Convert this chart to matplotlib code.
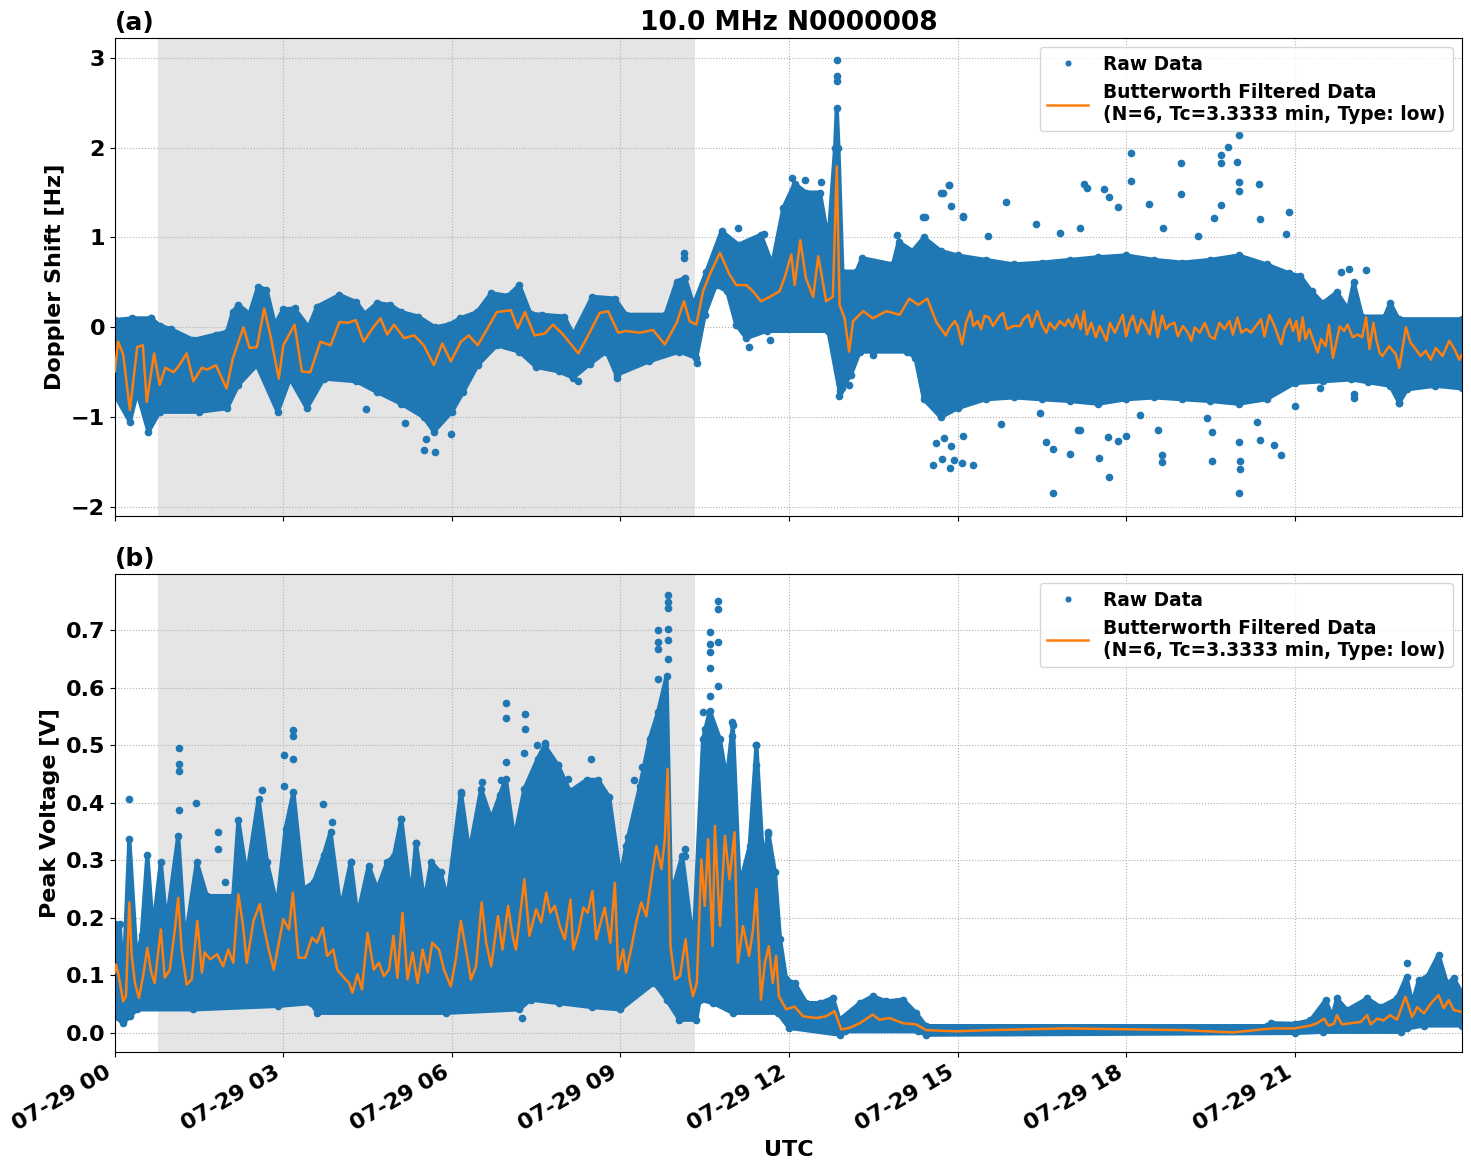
import numpy as np
import matplotlib
matplotlib.use("Agg")
import matplotlib.pyplot as plt
import matplotlib.dates as mdates
from datetime import datetime

# ---- panel (a): Doppler shift, hours UTC on 07-29 ----
filt_a_t = [0.0, 0.06, 0.15, 0.27, 0.4, 0.5, 0.57, 0.7, 0.8, 0.9, 1.05, 1.15, 1.28, 1.4, 1.55, 1.65,
            1.8, 1.99, 2.1, 2.29, 2.4, 2.53, 2.66, 2.77, 2.92, 3.0, 3.2, 3.33, 3.48, 3.66, 3.84, 4.0,
            4.15, 4.29, 4.43, 4.6, 4.73, 4.85, 4.97, 5.15, 5.33, 5.5, 5.68, 5.83, 5.98, 6.16, 6.3,
            6.46, 6.7, 6.8, 7.05, 7.17, 7.3, 7.47, 7.65, 7.8, 7.98, 8.25, 8.4, 8.63, 8.78, 8.96, 9.1,
            9.34, 9.58, 9.79, 10.0, 10.13, 10.23, 10.35, 10.47, 10.59, 10.77, 10.94, 11.06, 11.24,
            11.36, 11.5, 11.66, 11.83, 11.92, 12.04, 12.1, 12.2, 12.3, 12.43, 12.52, 12.57, 12.66,
            12.78, 12.85, 12.9, 12.99, 13.07, 13.14, 13.32, 13.49, 13.73, 13.97, 14.14, 14.3, 14.46,
            14.62, 14.79, 14.86, 14.95, 15.0, 15.08, 15.15, 15.23, 15.28, 15.36, 15.42, 15.48, 15.56,
            15.63, 15.75, 15.81, 15.88, 15.99, 16.11, 16.17, 16.26, 16.32, 16.42, 16.5, 16.58, 16.64,
            16.73, 16.82, 16.91, 16.97, 17.05, 17.12, 17.19, 17.25, 17.3, 17.38, 17.46, 17.53, 17.65,
            17.71, 17.8, 17.86, 17.94, 18.0, 18.06, 18.12, 18.2, 18.27, 18.34, 18.42, 18.49, 18.56,
            18.64, 18.71, 18.77, 18.86, 18.92, 19.01, 19.1, 19.16, 19.22, 19.31, 19.4, 19.49, 19.57,
            19.66, 19.75, 19.84, 19.9, 19.98, 20.05, 20.14, 20.22, 20.31, 20.4, 20.46, 20.55, 20.64,
            20.71, 20.76, 20.82, 20.91, 20.97, 21.03, 21.08, 21.14, 21.19, 21.26, 21.32, 21.41, 21.47,
            21.55, 21.61, 21.68, 21.8, 21.88, 21.94, 22.03, 22.12, 22.2, 22.27, 22.33, 22.4, 22.45,
            22.51, 22.56, 22.68, 22.8, 22.86, 22.98, 23.06, 23.15, 23.24, 23.33, 23.42, 23.51, 23.63,
            23.75, 23.84, 23.93, 23.98]
filt_a_v = [-0.49, -0.16, -0.3, -0.92, -0.22, -0.2, -0.83, -0.29, -0.64, -0.45, -0.5, -0.42, -0.29,
            -0.6, -0.45, -0.47, -0.42, -0.68, -0.35, 0.0, -0.23, -0.22, 0.21, -0.09, -0.57, -0.2, 0.03,
            -0.49, -0.5, -0.16, -0.2, 0.06, 0.05, 0.08, -0.16, 0.0, 0.1, -0.08, 0.03, -0.12, -0.09,
            -0.2, -0.42, -0.18, -0.38, -0.16, -0.09, -0.2, 0.06, 0.17, 0.19, -0.01, 0.17, -0.09, -0.07,
            0.03, -0.08, -0.29, -0.12, 0.16, 0.18, -0.06, -0.04, -0.06, -0.03, -0.19, 0.05, 0.29, 0.07,
            0.03, 0.4, 0.59, 0.83, 0.59, 0.47, 0.47, 0.4, 0.29, 0.34, 0.4, 0.55, 0.81, 0.47, 0.97, 0.55,
            0.34, 0.79, 0.62, 0.29, 0.34, 1.79, 0.25, 0.1, -0.27, 0.07, 0.18, 0.1, 0.18, 0.14, 0.32,
            0.25, 0.32, 0.06, -0.09, 0.0, 0.07, 0.015, -0.19, 0.05, 0.18, 0.015, 0.07, -0.02, 0.13,
            0.11, 0.015, 0.13, 0.16, -0.02, 0.015, 0.015, 0.09, 0.14, 0.0, 0.18, 0.03, -0.06, 0.05,
            -0.02, 0.07, 0.015, 0.09, 0.0, 0.14, -0.02, 0.18, -0.08, 0.05, -0.11, 0.015, -0.15, 0.05,
            -0.06, 0.03, 0.14, -0.1, 0.05, 0.13, -0.06, 0.09, 0.03, -0.08, 0.18, -0.11, 0.13, -0.02,
            0.03, 0.05, -0.1, 0.015, -0.06, -0.15, 0.0, -0.06, 0.05, -0.1, -0.13, 0.05, -0.02, 0.07,
            -0.08, 0.11, -0.06, -0.02, -0.06, 0.015, 0.09, -0.1, 0.14, 0.015, -0.11, -0.19, -0.02, 0.09,
            -0.04, 0.07, -0.15, 0.11, -0.13, -0.02, -0.13, -0.28, -0.13, -0.21, 0.03, -0.34, 0.01,
            -0.04, 0.03, -0.11, -0.08, -0.11, 0.11, -0.24, 0.05, -0.13, -0.28, -0.32, -0.21, -0.3,
            -0.45, 0.0, -0.17, -0.24, -0.32, -0.26, -0.36, -0.23, -0.32, -0.15, -0.24, -0.36, -0.3]

hi_a_t = [0.0, 0.3, 0.65, 0.8, 1.0, 1.4, 1.8, 2.0, 2.1, 2.2, 2.4, 2.55, 2.7, 2.85, 3.0, 3.2, 3.45,
          3.6, 4.0, 4.3, 4.45, 4.67, 4.9, 5.1, 5.4, 5.7, 5.95, 6.15, 6.45, 6.7, 7.0, 7.2, 7.4, 7.6,
          8.0, 8.16, 8.5, 8.9, 9.1, 9.8, 10.0, 10.15, 10.3, 10.53, 10.8, 11.1, 11.5, 11.7, 11.9,
          12.1, 12.3, 12.55, 12.7, 12.82, 12.85, 12.88, 12.95, 13.2, 13.3, 13.85, 13.95, 14.2, 14.4,
          14.7, 15.0, 15.5, 16.0, 16.5, 17.0, 17.5, 18.0, 18.5, 19.0, 19.5, 20.0, 20.5, 20.9, 21.1,
          21.3, 21.5, 21.75, 21.95, 22.05, 22.2, 22.6, 22.7, 22.85, 23.98]
hi_a_v = [0.08, 0.1, 0.1, 0.02, -0.02, -0.14, -0.08, -0.05, 0.17, 0.25, 0.15, 0.45, 0.42, 0.03, 0.2,
          0.21, 0.0, 0.23, 0.36, 0.28, 0.15, 0.27, 0.25, 0.17, 0.12, 0.0, 0.03, 0.1, 0.17, 0.38,
          0.35, 0.47, 0.15, 0.14, 0.12, -0.08, 0.34, 0.32, 0.14, 0.14, 0.51, 0.55, 0.25, 0.62, 1.07,
          0.92, 1.03, 0.7, 1.33, 1.6, 1.5, 1.5, 0.96, 2.0, 2.44, 2.0, 0.62, 0.62, 0.77, 0.7, 0.95,
          0.85, 1.0, 0.85, 0.8, 0.75, 0.7, 0.72, 0.75, 0.78, 0.8, 0.75, 0.72, 0.75, 0.8, 0.7, 0.6,
          0.57, 0.4, 0.27, 0.39, 0.2, 0.5, 0.12, 0.12, 0.27, 0.09, 0.09]
lo_a_t = [0.0, 0.27, 0.4, 0.6, 0.8, 1.5, 2.0, 2.2, 2.53, 2.9, 3.12, 3.42, 3.72, 4.3, 4.67, 5.1, 5.5,
          5.68, 6.0, 6.2, 6.46, 6.8, 7.2, 7.5, 7.9, 8.16, 8.45, 8.75, 8.93, 9.5, 10.05, 10.35, 10.5,
          10.7, 10.9, 11.06, 11.24, 11.6, 12.7, 12.9, 13.1, 13.26, 14.1, 14.25, 14.4, 14.7, 15.0,
          15.5, 16.0, 16.5, 17.0, 17.5, 18.0, 18.5, 19.0, 19.5, 20.0, 20.5, 21.0, 21.5, 22.0, 22.3,
          22.7, 22.86, 23.0, 23.5, 23.98]
lo_a_v = [-0.75, -1.05, -0.72, -1.16, -0.94, -0.94, -0.9, -0.64, -0.42, -0.94, -0.57, -0.9, -0.57,
          -0.6, -0.72, -0.85, -1.0, -1.16, -0.94, -0.72, -0.42, -0.2, -0.27, -0.44, -0.49, -0.56,
          -0.41, -0.27, -0.53, -0.38, -0.27, -0.34, 0.14, 0.47, 0.4, 0.03, -0.12, -0.04, -0.04,
          -0.71, -0.53, -0.27, -0.27, -0.34, -0.8, -1.0, -0.9, -0.8, -0.78, -0.8, -0.82, -0.85, -0.8,
          -0.78, -0.8, -0.82, -0.85, -0.8, -0.62, -0.6, -0.58, -0.61, -0.65, -0.84, -0.69, -0.65,
          -0.68]

out_a_t = [0.65, 4.48, 5.16, 5.5, 5.54, 5.7, 5.98, 8.25, 8.94, 10.13, 10.13, 10.37, 11.1, 11.29,
           11.55, 11.66, 12.05, 12.29, 12.57, 12.85, 12.85, 12.85, 12.89, 12.95, 13.06, 13.5, 13.92,
           14.39, 14.42, 14.71, 14.74, 14.84, 14.85, 14.88, 15.09, 15.1, 15.55, 15.87, 16.4, 16.83,
           17.17, 17.25, 17.31, 17.6, 17.7, 17.85, 18.09, 18.09, 18.41, 18.65, 18.98, 18.98, 19.28,
           19.57, 19.68, 19.68, 19.68, 19.82, 19.98, 20.0, 20.0, 20.0, 20.37, 20.38, 20.84, 20.9,
           21.83, 21.97, 22.26,
           14.57, 14.61, 14.73, 14.75, 14.86, 14.89, 14.93, 15.08, 15.1, 15.28, 15.77, 16.46, 16.57,
           16.7, 16.7, 17.0, 17.14, 17.17, 17.51, 17.68, 17.69, 17.86, 17.99, 18.25, 18.57, 18.63,
           18.63, 19.43, 19.52, 19.52, 20.0, 20.0, 20.02, 20.02, 20.33, 20.38, 20.63, 20.75, 21.0,
           21.45, 22.05, 22.05, 22.86]
out_a_v = [0.1, -0.91, -1.06, -1.37, -1.24, -1.39, -1.19, -0.6, -0.56, 0.83, 0.77, -0.4, 1.1, -0.22,
           1.04, -0.14, 1.66, 1.64, 1.62, 2.97, 2.8, 2.74, -0.76, -0.67, -0.64, -0.31, 1.03, 1.23,
           1.23, 1.49, 1.49, 1.58, 1.58, 1.35, 1.24, 1.23, 1.02, 1.4, 1.15, 1.05, 1.1, 1.59, 1.55,
           1.54, 1.45, 1.34, 1.94, 1.63, 1.37, 1.1, 1.83, 1.48, 1.02, 1.22, 1.92, 1.83, 1.36, 2.01,
           1.84, 2.14, 1.62, 1.52, 1.6, 1.21, 1.04, 1.28, 0.62, 0.65, 0.64,
           -1.53, -1.29, -1.47, -1.23, -1.56, -1.32, -1.48, -1.51, -1.21, -1.53, -1.08, -0.95, -1.28,
           -1.84, -1.35, -1.41, -1.14, -1.14, -1.45, -1.22, -1.66, -1.27, -1.21, -0.98, -1.14, -1.5,
           -1.42, -1.01, -1.49, -1.16, -1.84, -1.28, -1.49, -1.58, -1.05, -1.25, -1.31, -1.42, -0.88,
           -0.68, -0.74, -0.79, -0.84]

# ---- panel (b): peak voltage ----
filt_b_t = [0.0, 0.02, 0.06, 0.15, 0.2, 0.26, 0.3, 0.36, 0.43, 0.5, 0.58, 0.65, 0.71, 0.82, 0.89,
            0.98, 1.07, 1.13, 1.19, 1.28, 1.37, 1.47, 1.55, 1.6, 1.7, 1.82, 1.93, 2.02, 2.11, 2.2,
            2.28, 2.35, 2.47, 2.58, 2.65, 2.74, 2.83, 2.92, 3.0, 3.1, 3.17, 3.27, 3.39, 3.51, 3.6,
            3.7, 3.78, 3.89, 3.96, 4.08, 4.17, 4.23, 4.32, 4.4, 4.5, 4.61, 4.7, 4.79, 4.88, 4.96,
            5.03, 5.12, 5.21, 5.3, 5.39, 5.48, 5.57, 5.65, 5.77, 5.86, 5.98, 6.07, 6.16, 6.25, 6.34,
            6.43, 6.53, 6.61, 6.7, 6.82, 6.9, 7.0, 7.08, 7.14, 7.29, 7.38, 7.5, 7.59, 7.68, 7.75,
            7.83, 7.92, 8.01, 8.11, 8.16, 8.25, 8.34, 8.42, 8.5, 8.57, 8.63, 8.72, 8.82, 8.9, 8.96,
            9.05, 9.1, 9.2, 9.28, 9.37, 9.46, 9.55, 9.64, 9.73, 9.79, 9.84, 9.89, 9.97, 10.06, 10.16,
            10.23, 10.29, 10.36, 10.44, 10.5, 10.56, 10.64, 10.68, 10.77, 10.86, 10.94, 11.03, 11.09,
            11.18, 11.29, 11.36, 11.42, 11.5, 11.57, 11.64, 11.71, 11.77, 11.82, 11.95, 12.1, 12.25,
            12.49, 12.66, 12.81, 12.93, 13.08, 13.26, 13.49, 13.61, 13.79, 14.03, 14.26, 14.44,
            14.97, 15.57, 16.95, 19.0, 19.9, 20.6, 21.0, 21.28, 21.4, 21.52, 21.6, 21.7, 21.75,
            21.84, 21.99, 22.17, 22.29, 22.35, 22.47, 22.58, 22.7, 22.82, 22.97, 23.09, 23.18, 23.3,
            23.42, 23.56, 23.65, 23.74, 23.83, 23.95]
filt_b_v = [0.105, 0.119, 0.105, 0.055, 0.064, 0.227, 0.137, 0.087, 0.061, 0.096, 0.148, 0.105,
            0.087, 0.18, 0.096, 0.11, 0.18, 0.235, 0.145, 0.084, 0.093, 0.195, 0.105, 0.14, 0.128,
            0.137, 0.116, 0.145, 0.122, 0.241, 0.189, 0.122, 0.195, 0.224, 0.186, 0.145, 0.11, 0.157,
            0.198, 0.18, 0.244, 0.131, 0.131, 0.166, 0.157, 0.183, 0.134, 0.145, 0.11, 0.096, 0.087,
            0.07, 0.102, 0.076, 0.174, 0.11, 0.122, 0.099, 0.11, 0.169, 0.096, 0.209, 0.093, 0.14,
            0.087, 0.145, 0.105, 0.157, 0.145, 0.11, 0.081, 0.128, 0.195, 0.145, 0.093, 0.116, 0.227,
            0.157, 0.116, 0.203, 0.145, 0.221, 0.169, 0.145, 0.267, 0.169, 0.215, 0.192, 0.244,
            0.209, 0.221, 0.186, 0.163, 0.232, 0.145, 0.174, 0.218, 0.209, 0.247, 0.163, 0.186,
            0.218, 0.157, 0.261, 0.11, 0.145, 0.105, 0.151, 0.192, 0.227, 0.203, 0.267, 0.325, 0.285,
            0.337, 0.459, 0.151, 0.093, 0.099, 0.163, 0.093, 0.064, 0.087, 0.302, 0.221, 0.337,
            0.151, 0.36, 0.186, 0.343, 0.267, 0.349, 0.122, 0.186, 0.134, 0.18, 0.25, 0.058, 0.122,
            0.151, 0.087, 0.134, 0.064, 0.041, 0.046, 0.029, 0.026, 0.029, 0.038, 0.006, 0.009,
            0.017, 0.032, 0.023, 0.026, 0.017, 0.015, 0.005, 0.003, 0.005, 0.008, 0.005, 0.001,
            0.008, 0.008, 0.013, 0.017, 0.025, 0.013, 0.016, 0.031, 0.015, 0.017, 0.019, 0.031,
            0.015, 0.025, 0.022, 0.031, 0.023, 0.063, 0.028, 0.045, 0.034, 0.051, 0.066, 0.043,
            0.057, 0.04, 0.037]

hi_b_t = [0.0, 0.09, 0.15, 0.26, 0.39, 0.48, 0.58, 0.68, 0.82, 0.92, 1.13, 1.25, 1.46, 1.64, 2.11,
          2.2, 2.35, 2.56, 2.71, 2.89, 3.04, 3.18, 3.36, 3.54, 3.72, 3.84, 4.02, 4.2, 4.32, 4.52,
          4.67, 4.85, 4.97, 5.1, 5.27, 5.36, 5.51, 5.63, 5.8, 5.92, 6.16, 6.31, 6.52, 6.7, 6.85,
          6.96, 7.11, 7.29, 7.53, 7.65, 7.89, 8.1, 8.4, 8.6, 8.8, 9.0, 9.1, 9.35, 9.52, 9.67, 9.82,
          9.9, 10.1, 10.3, 10.47, 10.59, 10.77, 10.89, 11.0, 11.12, 11.3, 11.42, 11.54, 11.63,
          11.75, 11.84, 11.95, 12.1, 12.31, 12.55, 12.78, 12.9, 13.26, 13.49, 13.73, 14.03, 14.26,
          14.44, 20.5, 20.57, 21.0, 21.28, 21.55, 21.67, 21.75, 21.93, 22.29, 22.53, 22.82, 22.99,
          23.09, 23.21, 23.36, 23.56, 23.71, 23.83, 23.98]
hi_b_v = [0.19, 0.19, 0.08, 0.337, 0.128, 0.17, 0.31, 0.18, 0.297, 0.19, 0.343, 0.157, 0.297, 0.238,
          0.238, 0.37, 0.273, 0.407, 0.297, 0.221, 0.355, 0.419, 0.25, 0.262, 0.31, 0.349, 0.215,
          0.297, 0.203, 0.291, 0.25, 0.297, 0.308, 0.372, 0.233, 0.331, 0.227, 0.297, 0.279, 0.233,
          0.419, 0.314, 0.424, 0.372, 0.413, 0.442, 0.337, 0.424, 0.477, 0.5, 0.465, 0.42, 0.44,
          0.44, 0.41, 0.27, 0.325, 0.43, 0.511, 0.558, 0.62, 0.24, 0.308, 0.151, 0.511, 0.56, 0.511,
          0.44, 0.535, 0.256, 0.325, 0.5, 0.296, 0.349, 0.279, 0.163, 0.093, 0.087, 0.052, 0.052,
          0.061, 0.023, 0.052, 0.064, 0.055, 0.058, 0.035, 0.012, 0.012, 0.017, 0.016, 0.022, 0.057,
          0.028, 0.06, 0.04, 0.06, 0.045, 0.06, 0.098, 0.051, 0.092, 0.098, 0.136, 0.086, 0.095,
          0.069]
lo_b_t = [0.0, 0.15, 0.27, 0.4, 1.4, 2.9, 3.5, 3.6, 5.9, 7.2, 7.4, 7.9, 8.5, 9.0, 9.6, 9.82, 10.05,
          10.35, 10.41, 10.65, 11.0, 11.8, 12.0, 12.9, 13.0, 14.3, 14.44, 21.0, 21.5, 22.9, 23.0,
          23.3, 23.98]
lo_b_v = [0.029, 0.017, 0.029, 0.041, 0.041, 0.047, 0.052, 0.035, 0.035, 0.041, 0.058, 0.052, 0.045,
          0.041, 0.087, 0.058, 0.023, 0.023, 0.058, 0.052, 0.035, 0.035, 0.009, -0.003, 0.003, 0.003,
          -0.003, 0.0, 0.002, 0.002, 0.008, 0.013, 0.013]

out_b_t = [0.26, 1.14, 1.14, 1.14, 1.15, 1.45, 1.84, 1.84, 1.97, 2.62, 3.02, 3.02, 3.18, 3.18, 3.18,
           3.7, 3.86, 4.2, 5.1, 5.36, 6.16, 6.53, 6.87, 6.97, 6.97, 6.97, 7.3, 7.3, 7.28, 7.52, 7.66,
           7.73, 7.24, 7.64, 7.64, 7.89, 8.07, 8.47, 9.14, 9.25, 9.39, 9.67, 9.67, 9.67, 9.67, 9.84,
           9.84, 9.84, 9.84, 9.84, 9.84, 10.14, 10.15, 10.47, 10.5, 10.59, 10.59, 10.59, 10.59,
           10.59, 10.74, 10.74, 10.74, 10.74, 10.99, 10.99, 11.41, 11.41, 11.41, 11.63, 11.63,
           22.99]
out_b_v = [0.407, 0.495, 0.468, 0.455, 0.388, 0.4, 0.349, 0.32, 0.263, 0.423, 0.483, 0.43, 0.526,
           0.516, 0.477, 0.398, 0.366, 0.297, 0.372, 0.331, 0.416, 0.437, 0.439, 0.574, 0.547,
           0.471, 0.554, 0.529, 0.487, 0.5, 0.504, 0.458, 0.026, 0.488, 0.471, 0.465, 0.442, 0.476,
           0.34, 0.439, 0.462, 0.7, 0.68, 0.668, 0.616, 0.761, 0.75, 0.738, 0.703, 0.683, 0.65,
           0.32, 0.308, 0.558, 0.529, 0.697, 0.677, 0.662, 0.635, 0.586, 0.751, 0.737, 0.68, 0.603,
           0.54, 0.517, 0.5, 0.465, 0.436, 0.346, 0.325, 0.121]

night_start, night_end = 0.77, 10.33   # shaded interval, hours
label_filt = "Butterworth Filtered Data\n(N=6, Tc=3.3333 min, Type: low)"

day0 = mdates.date2num(datetime(2024, 7, 29))


def tx(h):
    return day0 + np.asarray(h) / 24.0


plt.rcParams['font.weight'] = 'bold'
plt.rcParams['axes.labelweight'] = 'bold'
plt.rcParams['font.size'] = 16

blue = '#1f77b4'
orange = '#ff7f0e'

fig, (ax1, ax2) = plt.subplots(2, 1, figsize=(14.71, 11.72), dpi=100, sharex=True)
fig.subplots_adjust(left=0.078, right=0.994, top=0.9676, bottom=0.1024, hspace=0.121)


def draw(ax, hi_t, hi_v, lo_t, lo_v, out_t, out_v, f_t, f_v):
    ax.axvspan(tx(night_start), tx(night_end), color='gray', alpha=0.2, lw=0, zorder=0.5)
    px = np.concatenate([tx(hi_t), tx(lo_t)[::-1]])
    py = np.concatenate([hi_v, lo_v[::-1]])
    ax.fill(px, py, color=blue, lw=3, joinstyle='round', zorder=2)
    ax.plot(tx(hi_t), hi_v, '.', color=blue, ms=9, zorder=2)
    ax.plot(tx(lo_t), lo_v, '.', color=blue, ms=9, zorder=2)
    ax.plot(tx(out_t), out_v, '.', color=blue, ms=9, zorder=2, label='Raw Data')
    ax.plot(tx(f_t), f_v, '-', color=orange, lw=1.8, zorder=3, label=label_filt)
    ax.grid(True, linestyle=':', color='#b0b0b0')
    ax.legend(loc='upper right', fontsize=13.4, markerscale=0.75, handlelength=2.2)


draw(ax1, hi_a_t, np.array(hi_a_v), lo_a_t, np.array(lo_a_v), out_a_t, out_a_v, filt_a_t, filt_a_v)
draw(ax2, hi_b_t, np.array(hi_b_v), lo_b_t, np.array(lo_b_v), out_b_t, out_b_v, filt_b_t, filt_b_v)

ax1.set_ylim(-2.1, 3.22)
ax1.set_yticks([-2, -1, 0, 1, 2, 3])
ax1.set_ylabel('Doppler Shift [Hz]')
ax1.set_title('10.0 MHz N0000008', fontsize=19, fontweight='bold')
ax1.set_title('(a)', loc='left', fontsize=18, fontweight='bold')

ax2.set_ylim(-0.033, 0.798)
ax2.set_yticks(np.arange(0, 0.75, 0.1))
ax2.set_ylabel('Peak Voltage [V]')
ax2.set_title('(b)', loc='left', fontsize=18, fontweight='bold')
ax2.set_xlabel('UTC')

ax2.set_xlim(tx(0), tx(23.98))
ax2.xaxis.set_major_locator(mdates.HourLocator(byhour=range(0, 24, 3)))
ax2.xaxis.set_major_formatter(mdates.DateFormatter('%m-%d %H'))
fig.autofmt_xdate(bottom=0.1024, rotation=30, ha='right')

fig.savefig('out.png', dpi=100)
